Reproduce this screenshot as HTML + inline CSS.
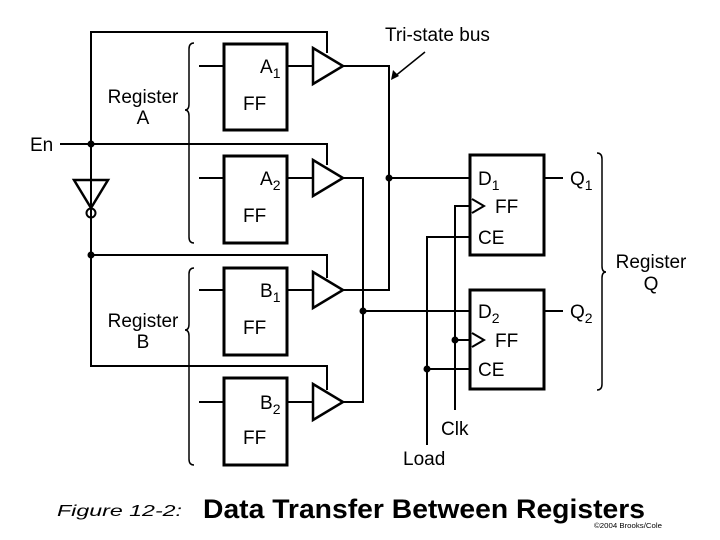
<!DOCTYPE html>
<html><head><style>body{margin:0;background:#fff}svg{display:block}</style></head><body>
<svg width="720" height="540" xmlns="http://www.w3.org/2000/svg" font-family="Liberation Sans, sans-serif">
<g stroke="#000" stroke-width="2" fill="none">
<!-- left control -->
<polyline points="91,255 91,32 327,32 327,53"/>
<polyline points="60,144 327,144 327,165"/>
<polyline points="91,144 91,180"/>
<polyline points="91,217 91,366 327,366 327,390"/>
<polyline points="91,255 327,255 327,278"/>
<polygon points="74,180 108,180 91,208" stroke-width="2.5"/>
<circle cx="91" cy="213" r="4.5"/>
<!-- boxes left -->
<rect x="224" y="44" width="63" height="86" stroke-width="3"/>
<rect x="224" y="156" width="63" height="87" stroke-width="3"/>
<rect x="224" y="268" width="63" height="87" stroke-width="3"/>
<rect x="224" y="378" width="63" height="87" stroke-width="3"/>
<line x1="199" y1="66" x2="224" y2="66"/>
<line x1="199" y1="178" x2="224" y2="178"/>
<line x1="199" y1="290" x2="224" y2="290"/>
<line x1="199" y1="402" x2="224" y2="402"/>
<line x1="287" y1="66" x2="313" y2="66"/>
<line x1="287" y1="178" x2="313" y2="178"/>
<line x1="287" y1="290" x2="313" y2="290"/>
<line x1="287" y1="402" x2="313" y2="402"/>
<polygon points="313,48 313,84 343,66" stroke-width="2.5"/>
<polygon points="313,160 313,196 343,178" stroke-width="2.5"/>
<polygon points="313,272 313,308 343,290" stroke-width="2.5"/>
<polygon points="313,384 313,420 343,402" stroke-width="2.5"/>
<!-- buses -->
<polyline points="343,66 389,66 389,290 343,290"/>
<polyline points="343,178 363,178 363,402 343,402"/>
<line x1="389" y1="178" x2="470" y2="178"/>
<line x1="363" y1="311" x2="470" y2="311"/>
<!-- right boxes -->
<rect x="470" y="155" width="74" height="100" stroke-width="3"/>
<rect x="470" y="290" width="74" height="99" stroke-width="3"/>
<line x1="544" y1="178" x2="563" y2="178"/>
<line x1="544" y1="311" x2="563" y2="311"/>
<polyline points="472,199 484,206 472,213" stroke-width="2"/>
<polyline points="472,333 484,340 472,347" stroke-width="2"/>
<polyline points="470,206 455,206 455,410"/>
<line x1="455" y1="340" x2="470" y2="340"/>
<polyline points="470,237 427,237 427,445"/>
<line x1="427" y1="369" x2="470" y2="369"/>
<!-- braces -->
<path d="M194,43 q-5,0 -5,6 v55 q0,6 -4,6 q4,0 4,6 v121 q0,6 5,6" stroke-width="1.5"/>
<path d="M194,268 q-5,0 -5,6 v50 q0,6 -4,6 q4,0 4,6 v123 q0,6 5,6" stroke-width="1.5"/>
<path d="M597,153 q5,0 5,6 v107 q0,6 4,6 q-4,0 -4,6 v106 q0,6 -5,6" stroke-width="1.5"/>
<!-- tri-state arrow -->
<line x1="425" y1="52" x2="394" y2="77" stroke-width="1.5"/>
</g>
<polygon points="391,80 393,70 399,76" fill="#000"/>
<g fill="#000">
<circle cx="91" cy="144" r="3.5"/><circle cx="91" cy="255" r="3.5"/>
<circle cx="389" cy="178" r="3.5"/><circle cx="363" cy="311" r="3.5"/>
<circle cx="455" cy="340" r="3.5"/><circle cx="427" cy="369" r="3.5"/>
</g>
<g font-size="19" fill="#000">
<text x="30" y="151">En</text>
<text x="143" y="103" text-anchor="middle">Register</text><text x="143" y="124" text-anchor="middle">A</text>
<text x="143" y="327" text-anchor="middle">Register</text><text x="143" y="348" text-anchor="middle">B</text>
<text x="651" y="268" text-anchor="middle">Register</text><text x="651" y="290" text-anchor="middle">Q</text>
<text x="385" y="41">Tri-state bus</text>
<text x="260" y="73">A<tspan font-size="14" dy="5">1</tspan></text>
<text x="260" y="185">A<tspan font-size="14" dy="5">2</tspan></text>
<text x="260" y="297">B<tspan font-size="14" dy="5">1</tspan></text>
<text x="260" y="409">B<tspan font-size="14" dy="5">2</tspan></text>
<text x="243" y="110">FF</text><text x="243" y="222">FF</text><text x="243" y="334">FF</text><text x="243" y="444">FF</text>
<text x="478" y="185">D<tspan font-size="14" dy="5">1</tspan></text>
<text x="478" y="318">D<tspan font-size="14" dy="5">2</tspan></text>
<text x="495" y="213">FF</text><text x="495" y="347">FF</text>
<text x="478" y="244">CE</text><text x="478" y="376">CE</text>
<text x="570" y="185">Q<tspan font-size="14" dy="5">1</tspan></text>
<text x="570" y="318">Q<tspan font-size="14" dy="5">2</tspan></text>
<text x="441" y="435">Clk</text>
<text x="403" y="465">Load</text>
</g>
<text x="57" y="516" font-size="16" font-style="italic" textLength="125" lengthAdjust="spacingAndGlyphs">Figure 12-2:</text>
<text x="203" y="518" font-size="27" font-weight="bold" textLength="442" lengthAdjust="spacingAndGlyphs">Data Transfer Between Registers</text>
<text x="594" y="528" font-size="7" textLength="68" lengthAdjust="spacingAndGlyphs">©2004 Brooks/Cole</text>
</svg>
</body></html>
